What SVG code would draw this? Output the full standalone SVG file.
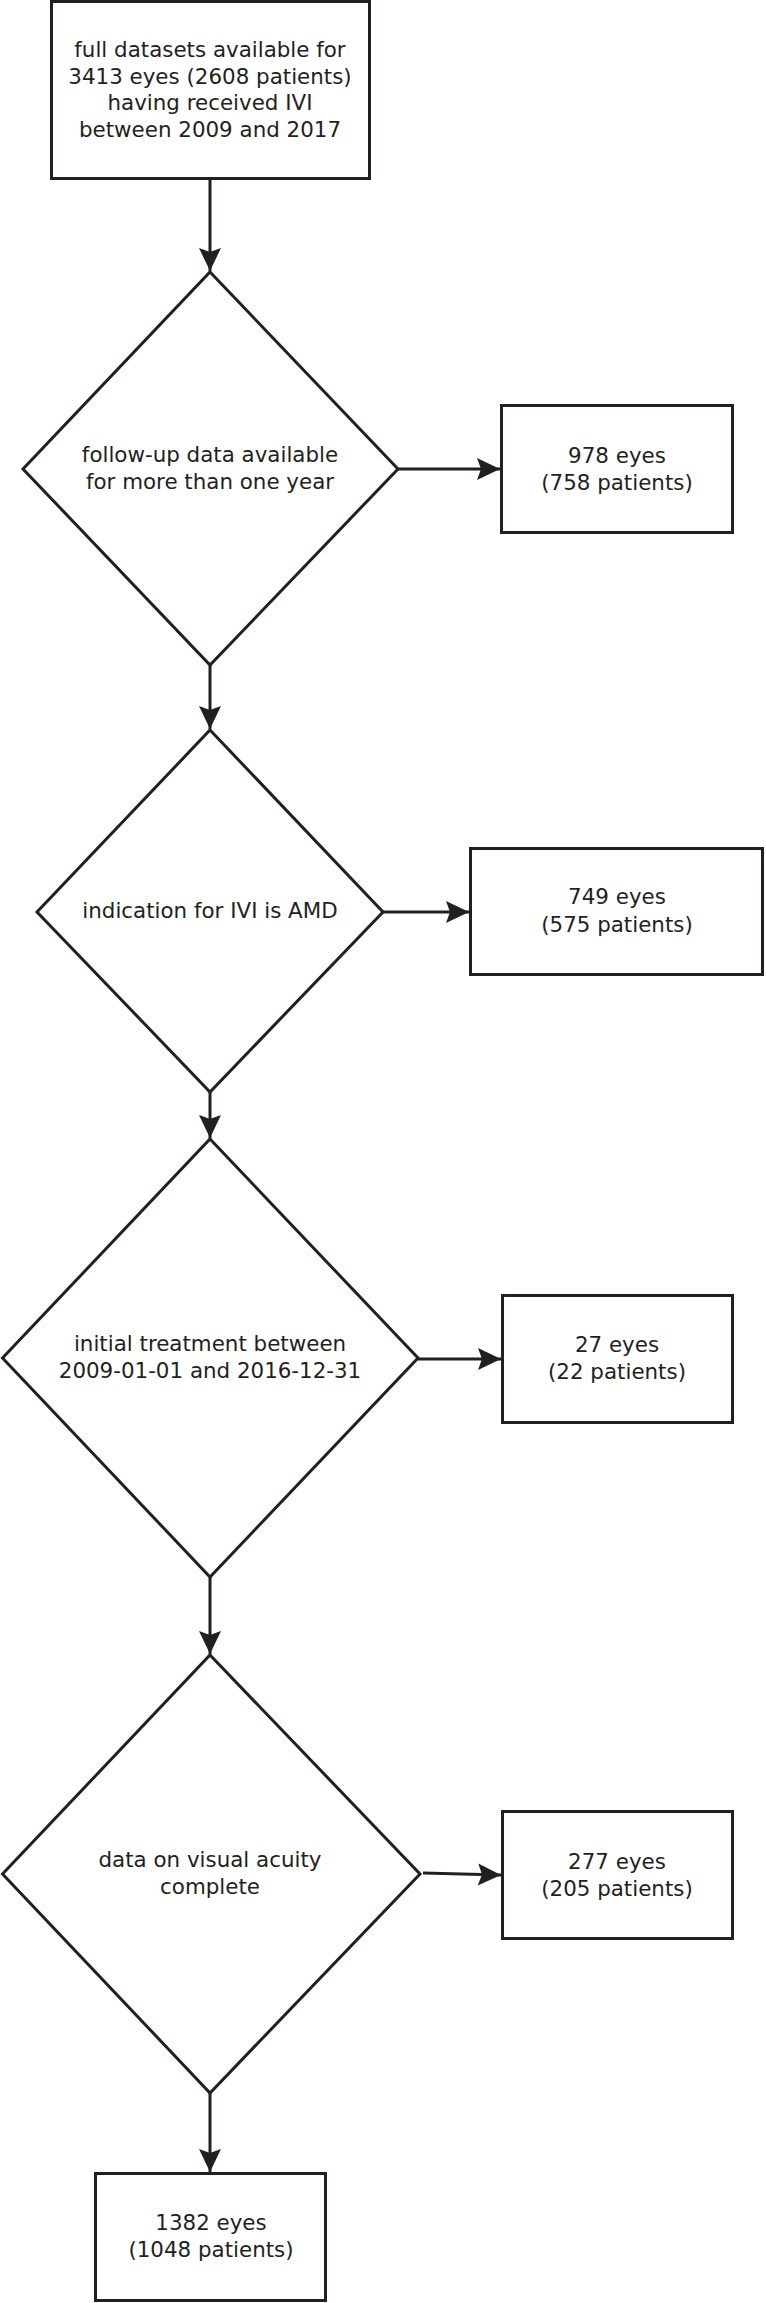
<svg xmlns="http://www.w3.org/2000/svg" width="766" height="2303" viewBox="0 0 766 2303">
<defs>
<style>
.n{fill:#fff;stroke:#231f20;stroke-width:3}
.t{font-family:"DejaVu Sans","Liberation Sans",sans-serif;font-size:21.4px;fill:#231f20;text-anchor:middle}
.c{stroke:#231f20;stroke-width:3;fill:none}
</style>
<marker id="ah" markerUnits="userSpaceOnUse" markerWidth="26" markerHeight="26" viewBox="-24 -12 26 24" refX="0" refY="0" orient="auto">
<path d="M0,0 L-23,-11 L-19,0 L-23,11 Z" fill="#231f20"/>
</marker>
</defs>
<rect width="766" height="2303" fill="#fff"/>
<g id="connectors">
<line class="c" x1="210" y1="179" x2="210" y2="271" marker-end="url(#ah)"/>
<line class="c" x1="398" y1="469" x2="500" y2="469" marker-end="url(#ah)"/>
<line class="c" x1="210" y1="665" x2="210" y2="729" marker-end="url(#ah)"/>
<line class="c" x1="383" y1="912" x2="469" y2="912" marker-end="url(#ah)"/>
<line class="c" x1="210" y1="1092" x2="210" y2="1138" marker-end="url(#ah)"/>
<line class="c" x1="418" y1="1359" x2="501" y2="1359" marker-end="url(#ah)"/>
<line class="c" x1="210" y1="1577" x2="210" y2="1654" marker-end="url(#ah)"/>
<line class="c" x1="423" y1="1873" x2="501" y2="1875" marker-end="url(#ah)"/>
<line class="c" x1="210" y1="2093" x2="210" y2="2172" marker-end="url(#ah)"/>
</g>
<g id="start">
<rect class="n" x="51.5" y="1.5" width="318" height="177"/>
<text class="t" x="210" y="57">full datasets available for</text>
<text class="t" x="210" y="83.5">3413 eyes (2608 patients)</text>
<text class="t" x="210" y="110">having received IVI</text>
<text class="t" x="210" y="136.5">between 2009 and 2017</text>
</g>
<g id="d1">
<polygon class="n" points="210,272 398,469 210,665 23,469"/>
<text class="t" x="210" y="462">follow-up data available</text>
<text class="t" x="210" y="488.5">for more than one year</text>
</g>
<g id="x1">
<rect class="n" x="501.5" y="405.5" width="231" height="127"/>
<text class="t" x="617" y="463">978 eyes</text>
<text class="t" x="617" y="490">(758 patients)</text>
</g>
<g id="d2">
<polygon class="n" points="210,730 383,912 210,1092 37,912"/>
<text class="t" x="210" y="918">indication for IVI is AMD</text>
</g>
<g id="x2">
<rect class="n" x="470.5" y="848.5" width="292" height="126"/>
<text class="t" x="617" y="904">749 eyes</text>
<text class="t" x="617" y="931.5">(575 patients)</text>
</g>
<g id="d3">
<polygon class="n" points="210,1139 418,1358 210,1577 2.5,1358"/>
<text class="t" x="210" y="1351">initial treatment between</text>
<text class="t" x="210" y="1377.5">2009-01-01 and 2016-12-31</text>
</g>
<g id="x3">
<rect class="n" x="502.5" y="1295.5" width="230" height="127"/>
<text class="t" x="617" y="1352">27 eyes</text>
<text class="t" x="617" y="1379">(22 patients)</text>
</g>
<g id="d4">
<polygon class="n" points="210,1655 420,1874 210,2093 2.5,1874"/>
<text class="t" x="210" y="1867">data on visual acuity</text>
<text class="t" x="210" y="1894">complete</text>
</g>
<g id="x4">
<rect class="n" x="502.5" y="1811.5" width="230" height="127"/>
<text class="t" x="617" y="1869">277 eyes</text>
<text class="t" x="617" y="1896">(205 patients)</text>
</g>
<g id="final">
<rect class="n" x="95.5" y="2173.5" width="230" height="127"/>
<text class="t" x="211" y="2230">1382 eyes</text>
<text class="t" x="211" y="2257">(1048 patients)</text>
</g>
</svg>
